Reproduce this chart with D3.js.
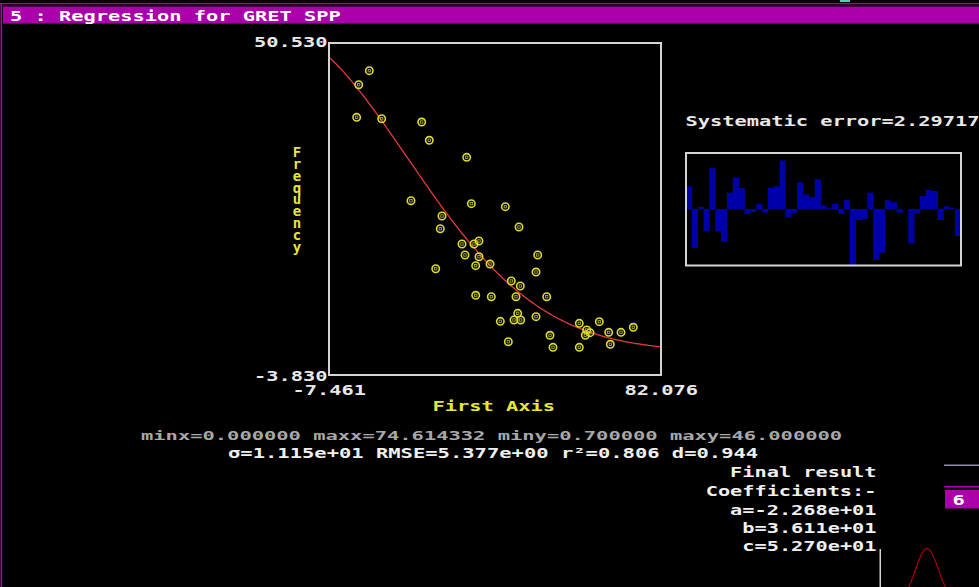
<!DOCTYPE html>
<html>
<head>
<meta charset="utf-8">
<script src="https://cdn.jsdelivr.net/npm/d3@7"></script>
<style>
  html, body { margin: 0; padding: 0; background: #000; overflow: hidden; }
  svg { display: block; }
  text { font-family: "DejaVu Sans Mono", "Liberation Mono", monospace; font-weight: bold; }
</style>
</head>
<body>
<script>
// Observed samples (first axis vs frequency)
const xVals = [3.41, 0.55, 0.0, 6.75, 17.54, 19.59, 29.67, 14.65, 30.92, 40.09,
  23.01, 22.55, 43.78, 28.41, 31.64, 32.99, 29.22, 32.99, 48.82, 21.32,
  32.10, 35.96, 48.37, 41.70, 44.13, 32.10, 36.31, 42.97, 51.25, 43.43,
  42.43, 44.24, 38.74, 48.37, 40.90, 52.14, 52.95, 60.04, 65.44, 62.04,
  62.93, 61.66, 67.97, 71.29, 74.61, 68.40, 60.04];
const yVals = [46.00, 43.70, 38.36, 38.13, 37.59, 34.60, 31.81, 24.71, 24.22, 23.73,
  22.20, 20.12, 20.40, 17.62, 17.62, 18.11, 15.82, 15.54, 15.82, 13.57,
  14.07, 14.34, 13.03, 11.56, 10.74, 9.22, 8.99, 8.99, 8.99, 6.27,
  5.18, 5.18, 4.96, 5.72, 1.62, 2.67, 0.70, 4.63, 4.90, 3.54,
  3.10, 2.67, 3.16, 3.16, 3.98, 1.20, 0.70];

// Residuals, one bar per sample
const residuals = [5.7, -9.75, 0.5, -5.6, 10.25, -5.6, -8.25, 4.1, 7.9, 5.25,
  -1.3, -0.75, 1.3, -0.9, 5.25, 5.7, 12.2, -2.0, -1.0, 6.75,
  3.7, 3.0, 7.5, 0.9, 0.2, 1.3, -1.2, 2.2, -14.1, -2.8,
  -2.5, 4.1, -12.8, -11.0, 2.2, 1.7, -0.9, 0.0, -8.7, -1.2,
  3.25, 4.8, 4.5, -2.8, 0.7, 0.2, -6.8];

// Axis extents
const xDomain = [-7.461, 82.076];
const yDomain = [-3.830, 50.530];

// Fitted coefficients: y = c * exp(-0.5 * ((x - a) / b)^2)
const coefA = -22.68;
const coefB = 36.11;
const coefC = 52.70;

const titleText = "5 : Regression for GRET SPP";
const xTitle = "First Axis";
const yTitle = "Frequency";
const errorText = "Systematic error=2.29717";
const rangeText = "minx=0.000000 maxx=74.614332 miny=0.700000 maxy=46.000000";
const statsText = "\u03c3=1.115e+01 RMSE=5.377e+00 r\u00b2=0.806 d=0.944";
const resultLines = ["Final result", "Coefficients:-", "a=-2.268e+01", "b=3.611e+01", "c=5.270e+01"];

const W = 979, H = 587;
const CW = 12.25; // character cell width

const svg = d3.select("body").append("svg").attr("width", W).attr("height", H);
svg.append("rect").attr("width", W).attr("height", H).attr("fill", "#000");

function label(x, y, s, color, size, anchor, cw) {
  const t = svg.append("text")
    .attr("x", x).attr("y", y)
    .attr("fill", color)
    .attr("font-size", size)
    .attr("text-anchor", anchor || "start")
    .attr("textLength", s.length * (cw || CW))
    .attr("lengthAdjust", "spacingAndGlyphs")
    .text(s);
  return t;
}

// Window chrome
svg.append("rect").attr("x", 0).attr("y", 3).attr("width", W).attr("height", 1.4).attr("fill", "#aa00aa");
svg.append("rect").attr("x", 0).attr("y", 4.4).attr("width", W).attr("height", 2).attr("fill", "#2a002a");
svg.append("rect").attr("x", 0.5).attr("y", 3).attr("width", 1.6).attr("height", H).attr("fill", "#aa00aa");
svg.append("rect").attr("x", 3).attr("y", 6.6).attr("width", W - 3).attr("height", 17).attr("fill", "#aa00aa");
svg.append("rect").attr("x", 840).attr("y", 0).attr("width", 10).attr("height", 2).attr("fill", "#55c8c8");
label(10, 20.5, titleText, "#ffffff", 14);

// Scatter plot
const x = d3.scaleLinear().domain(xDomain).range([329, 661]);
const y = d3.scaleLinear().domain(yDomain).range([375, 43]);

svg.append("defs").append("clipPath").attr("id", "plotclip")
  .append("rect").attr("x", x.range()[0]).attr("y", y.range()[1])
  .attr("width", x.range()[1] - x.range()[0]).attr("height", y.range()[0] - y.range()[1]);

const fit = v => coefC * Math.exp(-0.5 * Math.pow((v - coefA) / coefB, 2));
const curveXs = d3.range(0, 241).map(i => xDomain[0] + (xDomain[1] - xDomain[0]) * i / 240);
svg.append("path")
  .attr("clip-path", "url(#plotclip)")
  .attr("d", d3.line().x(d => x(d)).y(d => y(fit(d)))(curveXs))
  .attr("fill", "none").attr("stroke", "#e23a3a").attr("stroke-width", 1.3);

const pts = svg.append("g");
const pdata = xVals.map((v, i) => [v, yVals[i]]);
pts.selectAll("circle").data(pdata).join("circle")
  .attr("cx", d => x(d[0])).attr("cy", d => y(d[1])).attr("r", 3.7)
  .attr("fill", "none").attr("stroke", "#dcdc34").attr("stroke-width", 1.6);
pts.selectAll("rect").data(pdata).join("rect")
  .attr("x", d => x(d[0]) - 1.2).attr("y", d => y(d[1]) - 1.2)
  .attr("width", 2.4).attr("height", 2.4)
  .attr("fill", "none").attr("stroke", "#b8b82a").attr("stroke-width", 0.8);

// Plot frame
svg.append("rect").attr("x", x.range()[0]).attr("y", y.range()[1])
  .attr("width", x.range()[1] - x.range()[0]).attr("height", y.range()[0] - y.range()[1])
  .attr("fill", "none").attr("stroke", "#d4d4d4").attr("stroke-width", 2);

// Axis extent labels
const fmt = d3.format(".3f");
const neg = s => s.replace("\u2212", "-");
label(254, 47, neg(fmt(yDomain[1])), "#e8e8e8", 14);
label(254, 380.5, neg(fmt(yDomain[0])), "#e8e8e8", 14);
label(292.5, 394.5, neg(fmt(xDomain[0])), "#e8e8e8", 14);
label(624.5, 394.5, neg(fmt(xDomain[1])), "#e8e8e8", 14);

// Axis titles: x title runs horizontally, y title is stacked upright letters
label(432.5, 410.5, xTitle, "#e8e832", 14);
svg.append("text")
  .attr("x", 297).attr("y", 144)
  .attr("fill", "#e8e832").attr("font-size", 14)
  .style("writing-mode", "vertical-rl")
  .style("text-orientation", "upright")
  .attr("textLength", yTitle.length * 12.3)
  .attr("lengthAdjust", "spacing")
  .text(yTitle);

// Residual panel
label(685.5, 126, errorText, "#e8e8e8", 14);
const rx = d3.scaleBand().domain(d3.range(residuals.length)).range([686, 961]).padding(0);
const rmax = d3.max(residuals, d => Math.abs(d));
const ry = d3.scaleLinear().domain([-rmax, rmax]).range([265, 153]);
svg.append("g").selectAll("rect").data(residuals).join("rect")
  .attr("x", (d, i) => rx(i)).attr("width", rx.bandwidth() + 0.3)
  .attr("y", d => ry(Math.max(0, d))).attr("height", d => Math.abs(ry(d) - ry(0)))
  .attr("fill", "#0000aa");
svg.append("rect").attr("x", 686).attr("y", 153).attr("width", 275).attr("height", 112.5)
  .attr("fill", "none").attr("stroke", "#d4d4d4").attr("stroke-width", 2);

// Summary statistics
label(141, 439.5, rangeText, "#a8a8a8", 12.5, "start", 12.3);
label(228, 457.5, statsText, "#f0f0f0", 13.5, "start", 12.33);

const resultY = [477, 496, 514.5, 533, 551];
resultLines.forEach((s, i) => label(876.5, resultY[i], s, "#f0f0f0", 14, "end", 12.2));

// Neighbouring window fragments
svg.append("rect").attr("x", 944).attr("y", 464.5).attr("width", 35).attr("height", 1.5).attr("fill", "#8c8cb0");
svg.append("rect").attr("x", 944).attr("y", 486).attr("width", 35).attr("height", 1.5).attr("fill", "#aa00aa");
svg.append("rect").attr("x", 945).attr("y", 490).attr("width", 34).attr("height", 18.5).attr("fill", "#aa00aa");
label(952.5, 504.5, "6", "#ffffff", 14);
svg.append("rect").attr("x", 879.5).attr("y", 549).attr("width", 1.5).attr("height", 38).attr("fill", "#d4d4d4");
const bx = d3.scaleLinear().domain([-1, 1]).range([890, 964]);
const by = d3.scaleLinear().domain([0, 1]).range([600, 548.5]);
svg.append("path")
  .attr("d", d3.line().x(d => bx(d)).y(d => by(Math.exp(-d * d / (2 * 0.09))))(d3.range(-1, 1.001, 0.02)))
  .attr("fill", "none").attr("stroke", "#a00000").attr("stroke-width", 1.3);
</script>
</body>
</html>
